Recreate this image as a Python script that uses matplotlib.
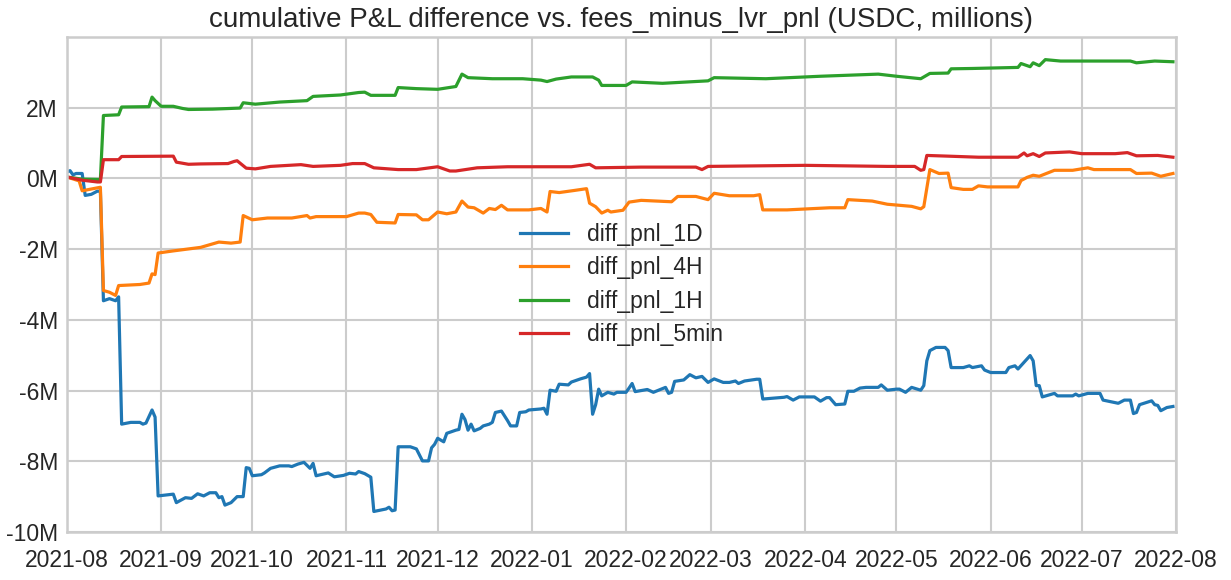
import matplotlib
matplotlib.use("Agg")
import matplotlib.pyplot as plt
import matplotlib.dates as mdates
from matplotlib.ticker import FuncFormatter
import pandas as pd

# ---- data (days since 2021-08-01, cumulative P&L difference in millions USDC) ----
start_date = "2021-08-01"

days_1d = [0, 1, 2, 3, 5, 6, 8, 10, 11, 12, 14, 16, 17, 18, 21, 24, 25, 26, 28, 29,
           30, 35, 36, 39, 41, 43, 45, 47, 49, 50, 51, 52, 54, 56, 58, 59, 60, 61, 64, 65,
           67, 70, 73, 74, 76, 78, 80, 81, 82, 86, 88, 91, 93, 95, 96, 98, 100, 101, 105, 106,
           107, 108, 109, 113, 115, 117, 119, 120, 121, 122, 124, 125, 128, 129, 130, 131, 132, 133, 134, 136,
           137, 139, 140, 141, 143, 145, 146, 148, 149, 151, 152, 156, 157, 158, 159, 161, 162, 165, 166, 169,
           171, 172, 173, 174, 175, 176, 178, 180, 181, 184, 185, 186, 187, 189, 191, 193, 197, 198, 199, 200,
           203, 205, 207, 209, 211, 213, 216, 218, 220, 221, 223, 227, 228, 229, 236, 237, 239, 241, 246, 248,
           250, 251, 253, 256, 257, 259, 261, 263, 267, 268, 270, 273, 274, 276, 278, 281, 282, 283, 284, 286,
           289, 290, 291, 295, 297, 298, 301, 302, 304, 309, 310, 312, 313, 315, 317, 318, 319, 320, 321, 325,
           326, 331, 332, 333, 336, 340, 341, 346, 348, 350, 351, 352, 353, 357, 358, 359, 360, 362, 364]
pnl_1d = [0.18, 0.22, 0.10, 0.14, 0.14, -0.48, -0.45, -0.36, -0.36, -3.46, -3.40, -3.46, -3.35, -6.95, -6.90, -6.90, -6.95, -6.92, -6.55, -6.75,
          -8.98, -8.93, -9.17, -9.03, -9.05, -8.92, -8.98, -8.89, -8.89, -9.03, -9.00, -9.24, -9.17, -9.00, -9.00, -8.18, -8.20, -8.41, -8.38, -8.33,
          -8.20, -8.13, -8.13, -8.15, -8.08, -8.03, -8.20, -8.06, -8.41, -8.33, -8.44, -8.40, -8.34, -8.36, -8.29, -8.35, -8.45, -9.42, -9.35, -9.30,
          -9.40, -9.38, -7.59, -7.59, -7.65, -7.99, -7.99, -7.62, -7.52, -7.35, -7.45, -7.21, -7.12, -7.10, -6.67, -6.82, -7.12, -6.95, -7.14, -7.07,
          -7.00, -6.95, -6.90, -6.62, -6.58, -6.85, -7.00, -7.00, -6.62, -6.60, -6.55, -6.52, -6.50, -6.67, -5.99, -6.02, -5.82, -5.84, -5.76, -5.67,
          -5.62, -5.52, -6.67, -6.40, -5.96, -6.15, -6.05, -6.10, -6.05, -6.05, -5.93, -5.80, -6.03, -6.00, -5.97, -6.05, -5.91, -6.08, -6.05, -5.74,
          -5.70, -5.55, -5.64, -5.60, -5.77, -5.67, -5.77, -5.77, -5.73, -5.80, -5.73, -5.68, -5.68, -6.24, -6.19, -6.17, -6.27, -6.18, -6.18, -6.30,
          -6.20, -6.20, -6.40, -6.38, -6.02, -6.02, -5.93, -5.91, -5.91, -5.84, -5.99, -5.96, -5.96, -6.05, -5.91, -5.99, -5.86, -5.16, -4.87, -4.78,
          -4.78, -4.87, -5.35, -5.35, -5.30, -5.35, -5.30, -5.42, -5.49, -5.49, -5.35, -5.30, -5.39, -5.20, -5.01, -5.16, -5.86, -5.86, -6.18, -6.08,
          -6.15, -6.15, -6.10, -6.15, -6.08, -6.08, -6.27, -6.36, -6.27, -6.27, -6.65, -6.62, -6.40, -6.29, -6.40, -6.42, -6.57, -6.48, -6.45]

days_4h = [0, 4, 5, 8, 11, 12, 14, 16, 17, 24, 27, 28, 29, 30, 35, 44, 50, 54, 57, 58,
           61, 66, 74, 79, 80, 82, 92, 96, 98, 100, 102, 108, 109, 115, 117, 119, 122, 125, 128, 130,
           132, 134, 137, 139, 141, 143, 145, 152, 156, 158, 159, 162, 167, 171, 172, 174, 176, 178, 179, 183,
           185, 189, 199, 201, 207, 211, 213, 218, 226, 228, 229, 237, 251, 256, 257, 265, 270, 278, 281, 282,
           284, 287, 290, 291, 295, 298, 300, 303, 313, 314, 316, 318, 320, 325, 331, 336, 338, 350, 352, 357,
           360, 364]
pnl_4h = [0.04, -0.07, -0.35, -0.30, -0.25, -3.17, -3.22, -3.31, -3.03, -3.00, -2.96, -2.70, -2.72, -2.11, -2.05, -1.95, -1.80, -1.83, -1.80, -1.05,
          -1.17, -1.12, -1.12, -1.05, -1.12, -1.08, -1.08, -0.98, -0.98, -1.02, -1.24, -1.26, -1.02, -1.03, -1.17, -1.17, -0.95, -1.00, -0.95, -0.64,
          -0.81, -0.83, -0.98, -0.85, -0.88, -0.76, -0.89, -0.89, -0.85, -0.95, -0.37, -0.40, -0.34, -0.29, -0.70, -0.80, -0.98, -0.90, -0.95, -0.90,
          -0.67, -0.62, -0.66, -0.51, -0.51, -0.60, -0.42, -0.49, -0.49, -0.46, -0.89, -0.89, -0.83, -0.83, -0.60, -0.64, -0.73, -0.79, -0.86, -0.80,
          0.25, 0.14, 0.15, -0.26, -0.31, -0.31, -0.21, -0.24, -0.24, -0.06, 0.03, 0.09, 0.06, 0.23, 0.23, 0.30, 0.25, 0.25, 0.14, 0.15,
          0.06, 0.14]

days_1h = [0, 5, 11, 12, 17, 18, 27, 28, 29, 31, 35, 38, 40, 48, 57, 58, 62, 70, 79, 81,
           90, 96, 98, 100, 108, 109, 115, 122, 128, 130, 132, 140, 150, 156, 158, 161, 166, 173, 175, 176,
           184, 186, 196, 211, 213, 230, 248, 267, 273, 281, 284, 290, 291, 298, 313, 314, 317, 318, 320, 322,
           327, 350, 352, 358, 364]
pnl_1h = [0.04, -0.02, -0.03, 1.78, 1.80, 2.02, 2.03, 2.30, 2.20, 2.04, 2.04, 1.98, 1.95, 1.96, 1.99, 2.14, 2.10, 2.16, 2.20, 2.32,
          2.36, 2.43, 2.44, 2.35, 2.35, 2.57, 2.54, 2.52, 2.60, 2.95, 2.85, 2.82, 2.82, 2.78, 2.74, 2.81, 2.87, 2.87, 2.78, 2.63,
          2.63, 2.73, 2.69, 2.76, 2.85, 2.82, 2.89, 2.95, 2.89, 2.82, 2.97, 2.98, 3.10, 3.11, 3.14, 3.25, 3.16, 3.27, 3.19, 3.36,
          3.32, 3.32, 3.27, 3.32, 3.30]

days_5min = [0, 5, 10, 11, 12, 17, 18, 35, 36, 40, 44, 53, 55, 56, 57, 59, 62, 67, 77, 81,
             90, 94, 98, 101, 109, 115, 122, 126, 128, 135, 145, 166, 172, 174, 189, 207, 209, 211, 243, 270,
             279, 281, 282, 283, 290, 300, 313, 315, 316, 318, 320, 322, 330, 334, 345, 349, 352, 359, 364]
pnl_5min = [0.04, -0.05, -0.10, -0.10, 0.53, 0.53, 0.62, 0.63, 0.46, 0.40, 0.41, 0.42, 0.48, 0.50, 0.43, 0.29, 0.27, 0.34, 0.39, 0.34,
            0.37, 0.42, 0.42, 0.30, 0.25, 0.25, 0.33, 0.21, 0.21, 0.30, 0.33, 0.33, 0.40, 0.30, 0.32, 0.32, 0.25, 0.34, 0.37, 0.34,
            0.34, 0.23, 0.25, 0.65, 0.63, 0.60, 0.60, 0.72, 0.64, 0.70, 0.62, 0.72, 0.75, 0.70, 0.70, 0.73, 0.64, 0.65, 0.60]

series_names = ["diff_pnl_1D", "diff_pnl_4H", "diff_pnl_1H", "diff_pnl_5min"]
series_colors = ["#1f77b4", "#ff7f0e", "#2ca02c", "#d62728"]

title = "cumulative P&L difference vs. fees_minus_lvr_pnl (USDC, millions)"
x_range = ["2021-08-01", "2022-08-01"]
y_range = [-10, 4]

# ---- style ----
plt.rcParams.update({
    "font.family": ["Liberation Sans", "DejaVu Sans"],
    "text.color": "#262626",
    "axes.labelcolor": "#262626",
    "xtick.color": "#262626",
    "ytick.color": "#262626",
    "axes.edgecolor": "#cccccc",
    "grid.color": "#cccccc",
})

fig = plt.figure(figsize=(12.31, 5.80), dpi=100)
ax = fig.add_axes([0.0544, 0.0828, 0.9009, 0.8534])

base = pd.Timestamp(start_date)
all_days = [days_1d, days_4h, days_1h, days_5min]
all_vals = [pnl_1d, pnl_4h, pnl_1h, pnl_5min]
for d, v, name, c in zip(all_days, all_vals, series_names, series_colors):
    dates = base + pd.to_timedelta(d, unit="D")
    ax.plot(dates, v, color=c, lw=2.3, label=name, solid_joinstyle="round")

ax.set_xlim(pd.Timestamp(x_range[0]), pd.Timestamp(x_range[1]))
ax.set_ylim(*y_range)
ax.set_yticks(range(-10, 3, 2))
ax.yaxis.set_major_formatter(FuncFormatter(lambda v, p: f"{v:.0f}M"))
ax.xaxis.set_major_locator(mdates.MonthLocator())
ax.xaxis.set_major_formatter(mdates.DateFormatter("%Y-%m"))

ax.grid(True, color="#cccccc", lw=1.5)
ax.set_axisbelow(True)
for s in ax.spines.values():
    s.set_color("#cccccc")
    s.set_linewidth(1.8)
ax.tick_params(axis="both", length=0, labelsize=16.5)
ax.tick_params(axis="x", pad=12)
ax.tick_params(axis="y", pad=6.5)

ax.set_title(title, fontsize=20, pad=7)
ax.legend(loc="center", frameon=False, fontsize=16.5, handlelength=2.1,
          handletextpad=0.8, labelspacing=0.45)

fig.savefig("out.png", dpi=100)
